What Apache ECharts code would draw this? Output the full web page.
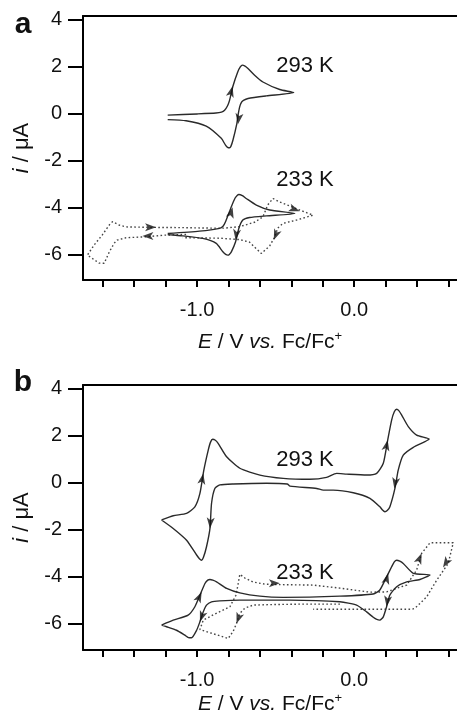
<!DOCTYPE html>
<html><head><meta charset="utf-8">
<script src="https://cdn.jsdelivr.net/npm/echarts@6/dist/echarts.min.js"></script>
<style>html,body{margin:0;padding:0;background:#fff}#c{width:457px;height:718px}</style>
</head><body><div id="c"></div>
<script>
// ---- data (E / V vs Fc/Fc+, i / uA) ----
const xTicks = [-1.6,-1.4,-1.2,-1.0,-0.8,-0.6,-0.4,-0.2,0.0,0.2,0.4,0.6];
const xLabels = [-1.0, 0.0];
const yTicks = [-6,-4,-2,0,2,4];
const panelLetters = ['a','b'];
const tempLabels = ['293 K','233 K'];

// panel a, 293 K (solid)
const a293 = [[-1.187,-0.07],[-1.0,-0.02],[-0.88,0.02],[-0.845,0.06],[-0.825,0.14],[-0.806,0.33],[-0.793,0.57],[-0.772,1.16],[-0.742,1.76],[-0.725,1.98],[-0.712,2.06],[-0.695,2.02],[-0.678,1.93],[-0.634,1.63],[-0.581,1.34],[-0.474,1.02],[-0.385,0.89],
 [-0.559,0.75],[-0.676,0.64],[-0.705,0.56],[-0.717,0.48],[-0.729,0.28],[-0.740,-0.10],[-0.747,-0.43],[-0.772,-1.14],[-0.785,-1.40],[-0.793,-1.46],[-0.806,-1.44],[-0.819,-1.35],[-0.846,-1.06],[-0.942,-0.54],[-1.070,-0.31],[-1.187,-0.26]];
// panel a, 233 K (solid)
const a233 = [[-1.187,-5.11],[-0.985,-5.01],[-0.857,-4.89],[-0.835,-4.80],[-0.819,-4.61],[-0.782,-3.97],[-0.758,-3.60],[-0.745,-3.49],[-0.734,-3.45],[-0.712,-3.50],[-0.687,-3.62],[-0.623,-3.90],[-0.538,-4.11],[-0.378,-4.26],
 [-0.559,-4.36],[-0.666,-4.43],[-0.709,-4.54],[-0.734,-4.89],[-0.755,-5.46],[-0.782,-5.89],[-0.795,-6.00],[-0.804,-6.03],[-0.818,-6.00],[-0.836,-5.89],[-0.878,-5.53],[-0.964,-5.32],[-1.091,-5.21],[-1.187,-5.15]];
// panel a, 233 K (dotted, wide window)
const a233w = [[-1.070,-5.15],[-1.208,-5.18],[-1.325,-5.25],[-1.452,-5.29],[-1.508,-5.39],[-1.527,-5.52],[-1.559,-5.90],[-1.591,-6.38],[-1.623,-6.37],[-1.698,-6.03],[-1.655,-5.60],[-1.604,-5.18],[-1.559,-4.75],[-1.538,-4.61],[-1.496,-4.75],[-1.452,-4.83],[-1.283,-4.85],[-1.101,-4.86],[-0.921,-4.88],[-0.825,-4.88],[-0.729,-4.82],[-0.634,-4.63],[-0.581,-4.40],[-0.551,-3.90],[-0.517,-3.62],[-0.474,-3.77],[-0.410,-3.94],[-0.347,-4.11],[-0.262,-4.33],
 [-0.368,-4.54],[-0.453,-4.68],[-0.487,-4.88],[-0.506,-5.26],[-0.538,-5.64],[-0.591,-5.96],[-0.634,-5.69],[-0.666,-5.48],[-0.729,-5.37],[-0.857,-5.31],[-1.091,-5.29]];
// panel b, 293 K (solid)
const b293 = [[-1.226,-1.60],[-1.152,-1.42],[-1.067,-1.32],[-1.014,-1.04],[-0.982,-0.47],[-0.957,0.52],[-0.929,1.37],[-0.915,1.70],[-0.901,1.83],[-0.886,1.80],[-0.866,1.66],[-0.812,1.09],[-0.728,0.60],[-0.600,0.31],[-0.452,0.17],[-0.282,0.13],[-0.176,0.21],[-0.112,0.38],[-0.048,0.35],[0.079,0.31],[0.143,0.38],[0.185,0.81],[0.213,1.80],[0.238,2.65],[0.255,3.00],[0.270,3.11],[0.285,3.04],[0.302,2.86],[0.344,2.37],[0.397,2.01],[0.477,1.84],
 [0.450,1.73],[0.376,1.49],[0.312,1.16],[0.280,0.52],[0.259,-0.26],[0.227,-1.04],[0.210,-1.20],[0.195,-1.25],[0.180,-1.18],[0.163,-1.04],[0.100,-0.68],[-0.006,-0.44],[-0.134,-0.33],[-0.197,-0.33],[-0.239,-0.26],[-0.409,-0.16],[-0.426,-0.07],[-0.558,-0.04],[-0.770,-0.07],[-0.855,-0.11],[-0.887,-0.26],[-0.908,-0.89],[-0.918,-1.96],[-0.940,-2.74],[-0.960,-3.20],[-0.971,-3.31],[-0.985,-3.25],[-1.003,-3.09],[-1.067,-2.46],[-1.152,-1.96],[-1.226,-1.60]];
// panel b, 233 K (solid)
const b233 = [[-1.226,-6.07],[-1.152,-5.86],[-1.057,-5.65],[-1.014,-5.29],[-0.982,-4.80],[-0.950,-4.30],[-0.932,-4.16],[-0.918,-4.13],[-0.900,-4.16],[-0.876,-4.23],[-0.812,-4.51],[-0.728,-4.70],[-0.600,-4.84],[-0.452,-4.89],[-0.091,-4.84],[0.121,-4.75],[0.163,-4.58],[0.206,-4.02],[0.238,-3.59],[0.255,-3.38],[0.270,-3.31],[0.290,-3.35],[0.312,-3.45],[0.376,-3.87],[0.482,-3.94],
 [0.418,-4.13],[0.334,-4.23],[0.270,-4.44],[0.227,-4.79],[0.206,-5.29],[0.185,-5.72],[0.163,-5.86],[0.140,-5.82],[0.121,-5.74],[0.079,-5.51],[0.015,-5.22],[-0.091,-5.08],[-0.409,-5.01],[-0.728,-5.01],[-0.855,-5.04],[-0.908,-5.08],[-0.940,-5.22],[-0.961,-5.51],[-0.982,-5.93],[-1.003,-6.29],[-1.035,-6.61],[-1.055,-6.60],[-1.078,-6.50],[-1.131,-6.29],[-1.194,-6.14],[-1.226,-6.07]];
// panel b, 233 K (dotted, wide window)
const b233w = [[-0.091,-5.18],[-0.346,-5.18],[-0.537,-5.20],[-0.643,-5.22],[-0.696,-5.35],[-0.728,-5.57],[-0.749,-6.00],[-0.770,-6.33],[-0.802,-6.64],[-0.887,-6.46],[-0.982,-6.26],[-0.961,-5.86],[-0.887,-5.60],[-0.791,-5.29],[-0.753,-4.80],[-0.740,-4.37],[-0.728,-3.91],[-0.696,-4.07],[-0.643,-4.24],[-0.568,-4.33],[-0.473,-4.35],[-0.261,-4.37],[-0.091,-4.50],[0.100,-4.67],[0.206,-4.66],[0.290,-4.46],[0.334,-4.37],[0.397,-3.73],[0.429,-3.02],[0.482,-2.57],[0.630,-2.57],
 [0.598,-3.45],[0.525,-4.16],[0.461,-4.87],[0.386,-5.36],[0.365,-5.40],[0.164,-5.40],[-0.091,-5.40],[-0.261,-5.40]];
// scan-direction arrows: [E, i, rotation]
const arrowsA = [[-0.774,1.16,-15],[-0.740,-0.46,172],[-0.774,-3.99,-15],[-0.755,-5.39,172],[-0.347,-4.16,-110],[-0.512,-5.39,158],[-1.261,-4.84,-90],[-1.348,-5.22,90]];
const arrowsB = [[-0.961,0.38,-10],[-0.918,-1.96,176],[0.213,1.80,-12],[0.255,-0.26,170],[-0.971,-4.66,-25],[-0.982,-5.93,160],[0.216,-3.87,-15],[0.206,-5.29,172],[-0.473,-4.29,-90],[-0.749,-6.00,160],[0.429,-3.02,-22],[0.565,-3.62,148]];

// ---- chart ----
const FONT = '"Liberation Sans", Arial, Helvetica, sans-serif';
const TXT = '#111';
const X_MIN = -1.726, X_MAX = 0.654;
const Y_RANGE = [[-7.09, 4.15], [-7.13, 4.14]];
const TITLE_GAP = [50, 42];
const chart = echarts.init(document.getElementById('c'), null, {renderer:'canvas'});

function bottomAxis(gi){
  return {gridIndex:gi, type:'value', position:'bottom', min:X_MIN, max:X_MAX,
    axisLine:{show:true, onZero:false, lineStyle:{color:'#000', width:2}},
    axisTick:{show:true, inside:false, length:7, customValues:xTicks, lineStyle:{color:'#000', width:2}},
    axisLabel:{show:true, customValues:xLabels, formatter:v=>Number(v).toFixed(1), margin:20, fontSize:20, color:TXT, fontFamily:FONT},
    splitLine:{show:false},
    name:'{i|E} / V {i|vs.} Fc/Fc{sup|+}', nameLocation:'middle', nameGap:TITLE_GAP[gi],
    nameTextStyle:{fontSize:21, color:TXT, fontFamily:FONT,
      rich:{n:{fontSize:21}, i:{fontStyle:'italic', fontSize:21, fontFamily:FONT, color:TXT, lineHeight:25},
            sup:{fontSize:13, fontFamily:FONT, color:TXT, verticalAlign:'top', lineHeight:13}}}
  };
}
function topAxis(gi){
  return {gridIndex:gi, type:'value', position:'top', min:X_MIN, max:X_MAX,
    axisLine:{show:true, onZero:false, lineStyle:{color:'#000', width:2}},
    axisTick:{show:false}, axisLabel:{show:false}, splitLine:{show:false}};
}
function leftAxis(gi){
  return {gridIndex:gi, type:'value', min:Y_RANGE[gi][0], max:Y_RANGE[gi][1],
    axisLine:{show:true, onZero:false, lineStyle:{color:'#000', width:2}},
    axisTick:{show:true, inside:false, length:15, customValues:yTicks, lineStyle:{color:'#000', width:2}},
    axisLabel:{show:true, customValues:yTicks, margin:21, fontSize:20, color:TXT, fontFamily:FONT},
    splitLine:{show:false},
    name:'{i|i} / μA', nameLocation:'middle', nameRotate:90, nameGap:47,
    nameTextStyle:{fontSize:22, color:TXT, fontFamily:FONT,
      rich:{i:{fontStyle:'italic', fontSize:22, fontFamily:FONT, color:TXT}}}
  };
}
function solid(data, gi){
  return {type:'line', xAxisIndex:gi*2, yAxisIndex:gi, data:data, showSymbol:false, smooth:0.2,
    lineStyle:{color:'#2a2a2a', width:1.4}, silent:true, z:3};
}
function dotted(data, gi){
  return {type:'line', xAxisIndex:gi*2, yAxisIndex:gi, data:data, showSymbol:false, smooth:0,
    lineStyle:{color:'#444', width:1.4, type:[1.6,2.4]}, silent:true, z:2};
}
function arrows(list, gi){
  return {type:'scatter', xAxisIndex:gi*2, yAxisIndex:gi, symbol:'arrow', symbolSize:[6,11],
    itemStyle:{color:'#111'}, silent:true, z:5,
    data:list.map(a=>({value:[a[0],a[1]], symbolRotate:a[2]}))};
}
function txt(t, x, y, size, bold){
  return {type:'text', x:x, y:y, silent:true,
    style:{text:t, fill:TXT, font:(bold?'bold ':'')+size+'px '+FONT, align:'center', verticalAlign:'middle'}};
}

chart.setOption({
  animation:false,
  backgroundColor:'#fff',
  grid:[
    {left:83, top:16, right:0, height:264, containLabel:false, outerBoundsMode:'none'},
    {left:83, top:385, right:0, height:265, containLabel:false, outerBoundsMode:'none'}
  ],
  xAxis:[bottomAxis(0), topAxis(0), bottomAxis(1), topAxis(1)],
  yAxis:[leftAxis(0), leftAxis(1)],
  series:[
    solid(a293,0), solid(a233,0), dotted(a233w,0), arrows(arrowsA,0),
    solid(b293,1), solid(b233,1), dotted(b233w,1), arrows(arrowsB,1)
  ],
  graphic:[
    txt(panelLetters[0], 23, 25, 30, true),
    txt(panelLetters[1], 23, 383, 30, true),
    txt(tempLabels[0], 305, 66, 22, false),
    txt(tempLabels[1], 305, 179.5, 22, false),
    txt(tempLabels[0], 305, 459.5, 22, false),
    txt(tempLabels[1], 305, 572.5, 22, false)
  ]
});
</script></body></html>
